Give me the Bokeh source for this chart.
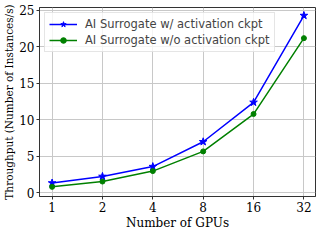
from bokeh.plotting import figure
from bokeh.models import FixedTicker, Range1d, Legend, LegendItem
from bokeh.embed import file_html
from bokeh.resources import INLINE
import math

gpus = [1, 2, 4, 8, 16, 32]
with_ckpt = [1.35, 2.25, 3.6, 7.0, 12.4, 24.3]
without_ckpt = [0.82, 1.55, 2.98, 5.68, 10.8, 21.2]
y_ticks = [0, 5, 10, 15, 20, 25]

xs = [math.log2(g) for g in gpus]

p = figure(width=317, height=232, output_backend="svg", toolbar_location=None,
           x_range=Range1d(-0.25, 5.23), y_range=Range1d(-0.5, 25.4),
           min_border_left=0, min_border_right=2, min_border_top=7, min_border_bottom=0)

l1 = p.line(xs, with_ckpt, line_color="blue", line_width=1.5)
s1 = p.scatter(xs, with_ckpt, marker="star", size=8, fill_color="blue", line_color="blue")
l2 = p.line(xs, without_ckpt, line_color="green", line_width=1.5)
s2 = p.scatter(xs, without_ckpt, marker="circle", size=5, fill_color="green", line_color="green")

legend = Legend(items=[LegendItem(label="AI Surrogate w/ activation ckpt", renderers=[l1, s1]),
                       LegendItem(label="AI Surrogate w/o activation ckpt", renderers=[l2, s2])],
                location="top_left")
legend.label_text_font = "DejaVu Sans"
legend.label_text_font_size = "11.5px"
legend.label_height = 14
legend.glyph_height = 14
legend.glyph_width = 28
legend.spacing = 2
legend.padding = 4
legend.margin = 5
legend.border_line_color = "#cccccc"
legend.background_fill_alpha = 0.8
legend.label_standoff = 8
p.add_layout(legend)

p.xaxis.ticker = FixedTicker(ticks=xs)
p.xaxis.major_label_overrides = {x: str(g) for x, g in zip(xs, gpus)}
p.yaxis.ticker = FixedTicker(ticks=y_ticks)

for ax in (p.xaxis, p.yaxis):
    ax.major_label_text_font = "DejaVu Serif"
    ax.major_label_text_font_size = "12px"
    ax.major_label_text_color = "black"
    ax.axis_label_text_font = "DejaVu Serif"
    ax.axis_label_text_font_size = "12px"
    ax.axis_label_text_font_style = "normal"
    ax.axis_label_text_color = "black"
    ax.minor_tick_line_color = None
    ax.major_tick_out = 3
    ax.major_tick_in = 0
    ax.axis_line_color = "#333333"
    ax.major_tick_line_color = "#333333"
    ax.major_label_standoff = 2
    ax.axis_label_standoff = 1

p.xaxis.axis_label = "Number of GPUs"
p.yaxis.axis_label = "Throughput (Number of Instances/s)"
p.yaxis.axis_label_text_font_size = "10.5px"

p.grid.grid_line_color = "#c8c8c8"
p.grid.grid_line_width = 1
p.outline_line_color = "#333333"
p.outline_line_width = 1

open("out.html", "w").write(file_html(p, INLINE))
